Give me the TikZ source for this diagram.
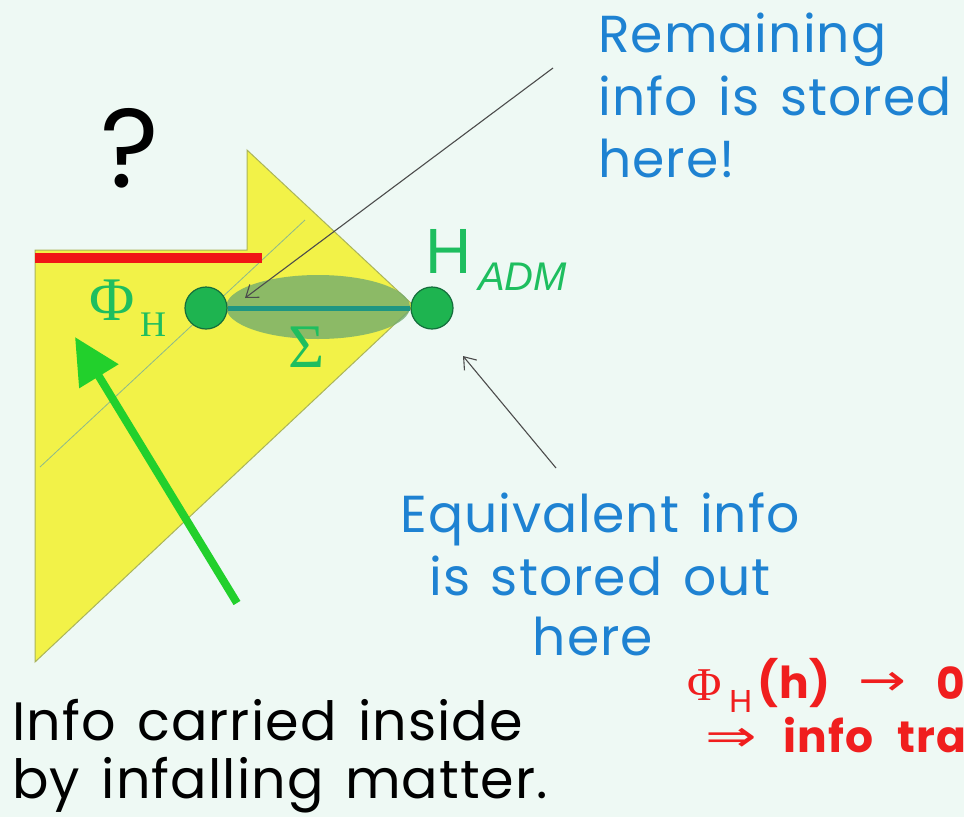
\documentclass[tikz,border=0pt]{standalone}
\usepackage{fontspec}
\usepackage{graphicx}
\setmainfont{Poppins}[LetterSpace=2, WordSpace=1.4]
\newfontfamily\redfont{Poppins}[LetterSpace=3, WordSpace=2.2]
\newfontfamily\serifx{Liberation Serif}
\newfontfamily\sansx{Liberation Sans}
\newfontfamily\arrx{DejaVu Sans}
\usetikzlibrary{arrows.meta}
\definecolor{bg}{RGB}{238,249,244}
\definecolor{yel}{RGB}{242,242,72}
\definecolor{yedge}{RGB}{170,180,90}
\definecolor{redbar}{RGB}{240,22,22}
\definecolor{arrgreen}{RGB}{34,208,44}
\definecolor{dotfill}{RGB}{30,180,80}
\definecolor{dotedge}{RGB}{20,110,60}
\definecolor{tealline}{RGB}{30,150,130}
\definecolor{ellcol}{RGB}{115,172,110}
\definecolor{txtblue}{RGB}{30,130,210}
\definecolor{txtgreen}{RGB}{30,190,95}
\definecolor{txtred}{RGB}{240,30,30}
\definecolor{thinline}{RGB}{140,185,140}
\tikzset{
  dot/.style={circle, fill=dotfill, draw=dotedge, line width=1.2pt, minimum size=42pt, inner sep=0pt},
  bluetxt/.style={text=txtblue, font=\fontsize{52}{52}\selectfont, inner sep=0pt},
  blacktxt/.style={text=black, font=\fontsize{54}{54}\selectfont, inner sep=0pt, anchor=base west},
  redbold/.style={text=txtred, font=\redfont\bfseries\fontsize{44}{44}\selectfont, inner sep=0pt, anchor=base west},
  redtight/.style={text=txtred, font=\bfseries\fontsize{44}{44}\selectfont, inner sep=0pt, anchor=base west},
  redplain/.style={text=txtred, inner sep=0pt},
  pointer/.style={draw=black!70, line width=1.1pt, -{Straight Barb[length=11pt,width=16pt]}},
}
\begin{document}
\begin{tikzpicture}[x=1pt,y=-1pt]
\useasboundingbox (0,0) rectangle (964,817);
\clip (0,0) rectangle (964,817);
\fill[bg] (0,0) rectangle (964,817);

% yellow region
\fill[yel, draw=yedge, line width=1pt] (35,662) -- (35,250) -- (247,250) -- (247,150) -- (414,306) -- cycle;
\draw[thinline, line width=0.8pt] (305,220) -- (40,467);
\draw[redbar, line width=10pt] (35,258) -- (262,258);

% question mark
\node[font=\fontsize{112}{112}\selectfont, inner sep=0pt] (q) at (130,148) {?};

% ellipse and nodes
\fill[ellcol, opacity=0.8] (318,307) ellipse [x radius=92pt, y radius=32pt];
\node[dot] (phi) at (206,308) {};
\node[dot] (adm) at (432,308) {};
\draw[tealline, line width=5pt] (phi) -- (adm);

\node[text=txtgreen, font=\serifx\fontsize{62}{62}\selectfont, inner sep=0pt] (philab) at (112,300) {Φ};
\node[text=txtgreen, font=\serifx\fontsize{36}{36}\selectfont, inner sep=0pt] (phisub) at (153,325) {H};
\node[text=txtgreen, font=\serifx\fontsize{62}{62}\selectfont, inner sep=0pt] (sigma) at (307,347) {Σ};
\node[text=txtgreen, font=\sansx\fontsize{64}{64}\selectfont, inner sep=0pt] (hlab) at (449,251) {H};
\node[text=txtgreen, font=\sansx\itshape\fontsize{40}{40}\selectfont, inner sep=0pt, anchor=base west] (admlab) at (478,290) {ADM};

% green arrow
\coordinate (gtail) at (237,603);
\coordinate (ghead) at (75,337);
\draw[arrgreen, line width=8pt, -{Triangle[length=46pt,width=44pt]}] (gtail) -- (ghead);

% pointers
\coordinate (p1) at (553,68);
\coordinate (t1) at (245,298);
\draw[pointer] (p1) -- (t1);
\coordinate (p2) at (556,468);
\coordinate (t2) at (463,356);
\draw[pointer] (p2) -- (t2);

% blue texts
\node[bluetxt, anchor=base west] (r1) at (598,52) {Remaining};
\node[bluetxt, anchor=base west] (r2) at (598,115) {info is stored};
\node[bluetxt, anchor=base west] (r3) at (598,177) {here!};

\node[bluetxt, anchor=base] (e1) at (600,532) {Equivalent info};
\node[bluetxt, anchor=base] (e2) at (600,595) {is stored out};
\node[bluetxt, anchor=base] (e3) at (593,655) {here};

% black text
\node[blacktxt] (b1) at (12,740) {Info carried inside};
\node[blacktxt] (b2) at (12,798) {by infalling matter.};

% red text
\node[redplain, anchor=base west, font=\serifx\fontsize{47}{47}\selectfont] (rphi) at (687,700) {Φ};
\node[redplain, anchor=base west, font=\sansx\fontsize{32}{32}\selectfont] (rsub) at (729,712) {H};
\node[redtight] (rh) at (757,698) {(h)};
\node[redplain, font=\arrx\fontsize{44}{44}\selectfont] (rarr) at (882,684) {\scalebox{1.3}[1]{→}};
\node[redtight] (rzero) at (936,699) {0};
\node[redplain, font=\arrx\fontsize{44}{44}\selectfont] (rimp) at (731,740) {\scalebox{1.4}[1]{⇒}};
\node[redbold] (rinfo) at (783,752) {info tra};
\end{tikzpicture}
\end{document}
